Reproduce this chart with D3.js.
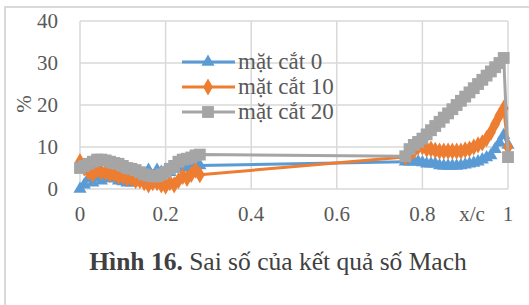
<!DOCTYPE html>
<html>
<head>
<meta charset="utf-8">
<script src="https://cdn.jsdelivr.net/npm/d3@7"></script>
<style>
  body { margin: 0; background: #fff; }
</style>
</head>
<body>
<svg id="chart"></svg>
<script>
var width = 529,
    height = 305,
    font = "Liberation Serif";

// x/c positions of the sampled points (leading part, then trailing part)
var xc = [0, 0.01, 0.02, 0.03, 0.04, 0.05, 0.06, 0.07, 0.08, 0.09, 0.10, 0.11, 0.12, 0.13, 0.14,
          0.15, 0.16, 0.17, 0.18, 0.19, 0.20, 0.21, 0.22, 0.23, 0.24, 0.25, 0.26, 0.27, 0.28,
          0.76, 0.77, 0.78, 0.79, 0.80, 0.81, 0.82, 0.83, 0.84, 0.85, 0.86, 0.87, 0.88, 0.89,
          0.90, 0.91, 0.92, 0.93, 0.94, 0.95, 0.96, 0.97, 0.98, 0.99, 1.0];

var cut0  = [0, 1, 2.5, 1.5, 2.8, 2, 3, 2.5, 2.5, 2, 1.8, 1.5, 1.5, 1.8, 2.5,
             3, 4.5, 3, 4.5, 4, 4.5, 4, 4.8, 5, 5.2, 5, 5.5, 6.3, 5.6,
             6.5, 6.5, 6.5, 6.5, 6.3, 6, 6, 6, 5.6, 5.5, 5.5, 5.5, 5.5, 5.6,
             5.8, 6, 6.2, 6.5, 7, 7.5, 8, 9.5, 11, 12.8, 10.5];
var cut10 = [6.5, 5, 4, 3.5, 4.5, 4, 4, 3.5, 3.5, 3, 3, 2.5, 2.5, 2, 2,
             1.5, 1, 1.5, 1.5, 1, 0.7, 1.5, 1, 2, 3, 2.5, 3.5, 4.5, 3.4,
             7.6, 8, 9, 10, 10, 9.5, 9.5, 9.2, 9, 9, 9, 9, 9, 9,
             9.3, 9.5, 10, 10.5, 11, 12, 13.5, 15.5, 17.5, 19.2, 10];
var cut20 = [5, 5.5, 6, 6.5, 7, 7, 6.8, 6.5, 6.2, 6, 5.5, 5, 4.8, 4.5, 4,
             3.5, 3.2, 3, 3, 3.5, 4, 4.8, 5.5, 6.5, 7, 7.2, 7.5, 8, 8.2,
             7.8, 9.5, 10.5, 11.2, 12, 13, 14, 15, 16, 17, 18, 19, 20, 21,
             22, 23, 24, 25, 26, 27, 28, 29, 30, 31.2, 7.6];

var seriesNames = ["mặt cắt 0", "mặt cắt 10", "mặt cắt 20"];
var seriesColors = ["#5b9bd5", "#ed7d31", "#a5a5a5"];
var xTicks = [0, 0.2, 0.4, 0.6, 0.8, 1];
var yTicks = [0, 10, 20, 30, 40];

var x = d3.scaleLinear().domain([0, 1]).range([80, 508]);
var y = d3.scaleLinear().domain([0, 40]).range([189, 21]);

var svg = d3.select("#chart")
            .attr("width", width)
            .attr("height", height)
            .attr("font-family", font);

// big serif text falls back to sans here, so draw at 20px and scale up
function bigText(sel, px, cx, cy) {
  return sel.attr("font-size", 20)
            .attr("transform", "translate(" + cx + "," + cy + ") scale(" + (px / 20) + ")");
}

// page frame
svg.append("path")
   .attr("d", "M5,305V7H529")
   .attr("fill", "none")
   .attr("stroke", "#d9d9d9")
   .attr("stroke-width", 2);

// gridlines
svg.selectAll("line.hgrid")
   .data(yTicks)
   .enter().append("line")
     .attr("class", "hgrid")
     .attr("x1", x(0)).attr("x2", x(1))
     .attr("y1", function(d) { return y(d); })
     .attr("y2", function(d) { return y(d); })
     .attr("stroke", "#d9d9d9").attr("stroke-width", 1.5);

svg.selectAll("line.vgrid")
   .data(xTicks)
   .enter().append("line")
     .attr("class", "vgrid")
     .attr("y1", y(0)).attr("y2", y(40))
     .attr("x1", function(d) { return x(d); })
     .attr("x2", function(d) { return x(d); })
     .attr("stroke", "#d9d9d9").attr("stroke-width", 1.5);

// tick labels
svg.selectAll("text.ytick")
   .data(yTicks)
   .enter().append("text")
     .attr("class", "ytick")
     .attr("x", 58)
     .attr("y", function(d) { return y(d) + 7; })
     .attr("text-anchor", "end")
     .attr("font-size", 21)
     .attr("fill", "#595959")
     .text(function(d) { return d; });

svg.selectAll("text.xtick")
   .data(xTicks)
   .enter().append("text")
     .attr("class", "xtick")
     .attr("x", function(d) { return x(d); })
     .attr("y", 221)
     .attr("text-anchor", "middle")
     .attr("font-size", 21)
     .attr("fill", "#595959")
     .text(function(d) { return d; });

svg.append("text")
   .attr("x", 472).attr("y", 221)
   .attr("text-anchor", "middle")
   .attr("font-size", 21)
   .attr("fill", "#595959")
   .text("x/c");

svg.append("text")
   .attr("transform", "translate(31,104) rotate(-90)")
   .attr("text-anchor", "middle")
   .attr("font-size", 21)
   .attr("fill", "#595959")
   .text("%");

// series
var symbols = [d3.symbolTriangle, d3.symbolDiamond, d3.symbolSquare];
var symSizes = [75, 85, 140];
var allSeries = [cut0, cut10, cut20];

var line = d3.line()
             .x(function(d) { return x(d[0]); })
             .y(function(d) { return y(d[1]); });

allSeries.forEach(function(vals, s) {
  var pts = xc.map(function(v, i) { return [v, vals[i]]; });
  var g = svg.append("g");
  g.append("path")
   .attr("d", line(pts))
   .attr("fill", "none")
   .attr("stroke", seriesColors[s])
   .attr("stroke-width", 3)
   .attr("stroke-linejoin", "round");
  g.selectAll("path.pt")
   .data(pts)
   .enter().append("path")
     .attr("class", "pt")
     .attr("transform", function(d) { return "translate(" + x(d[0]) + "," + y(d[1]) + ")"; })
     .attr("d", d3.symbol().type(symbols[s]).size(symSizes[s]))
     .attr("fill", seriesColors[s]);
});

// legend
var legend = svg.selectAll("g.legend")
                .data(seriesNames)
                .enter().append("g")
                  .attr("class", "legend")
                  .attr("transform", function(d, i) { return "translate(182," + (62 + i * 25) + ")"; });

legend.append("line")
      .attr("x1", 0).attr("x2", 53)
      .attr("stroke", function(d, i) { return seriesColors[i]; })
      .attr("stroke-width", 3);
legend.append("path")
      .attr("transform", "translate(26,0)")
      .attr("d", function(d, i) { return d3.symbol().type(symbols[i]).size(symSizes[i])(); })
      .attr("fill", function(d, i) { return seriesColors[i]; });
bigText(legend.append("text"), 23, 56, 7)
      .attr("fill", "#595959")
      .text(function(d) { return d; });

// caption
var cap = bigText(svg.append("text"), 25.5, 278, 270)
             .attr("text-anchor", "middle")
             .attr("fill", "#404040");
cap.append("tspan").attr("font-weight", "bold").text("Hình 16.");
cap.append("tspan").text(" Sai số của kết quả số Mach");
</script>
</body>
</html>
